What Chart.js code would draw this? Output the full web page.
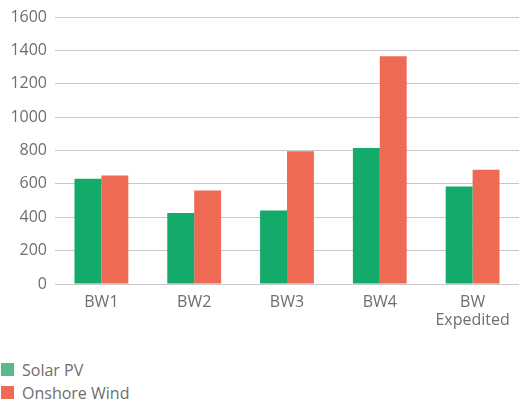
<!DOCTYPE html>
<html>
<head>
<meta charset="utf-8">
<script src="https://cdn.jsdelivr.net/npm/chart.js@4"></script>
<style>
  html, body { margin: 0; padding: 0; background: #fff; }
  #wrap { position: relative; width: 519px; height: 400px; overflow: hidden; }
  #chartBox { position: absolute; left: 0; top: 0; width: 519px; height: 338px; }
  #legend { position: absolute; left: 1px; top: 358px; font-family: "Open Sans", sans-serif; font-size: 16px; color: #6e6e6e; }
  .item { display: flex; align-items: center; height: 23px; }
  .box { width: 13px; height: 13px; margin-right: 8px; }
</style>
</head>
<body>
<div id="wrap">
  <div id="chartBox"><canvas id="c"></canvas></div>
  <div id="legend"></div>
</div>
<script>
const categories = [["BW1"], ["BW2"], ["BW3"], ["BW4"], ["BW", "Expedited"]];
const solarPV = [630, 425, 440, 815, 585];
const onshoreWind = [650, 560, 795, 1365, 685];
const seriesNames = ["Solar PV", "Onshore Wind"];
const barColors = ["#14aa6a", "#ee6a55"];
const legendColors = ["#5cba8a", "#ee6a55"];

const fontFamily = "'Open Sans', sans-serif";
const chart = new Chart(document.getElementById('c'), {
  type: 'bar',
  data: {
    labels: categories,
    datasets: [
      { label: seriesNames[0], data: solarPV, backgroundColor: barColors[0], categoryPercentage: 0.58, barPercentage: 1.0 },
      { label: seriesNames[1], data: onshoreWind, backgroundColor: barColors[1], categoryPercentage: 0.58, barPercentage: 1.0 }
    ]
  },
  options: {
    responsive: true,
    maintainAspectRatio: false,
    animation: false,
    layout: { padding: { top: 12, right: 0, left: 0, bottom: 0 } },
    plugins: { legend: { display: false }, tooltip: { enabled: false } },
    scales: {
      x: {
        grid: { display: false, drawTicks: false },
        border: { display: false },
        ticks: { color: '#6e6e6e', font: { family: fontFamily, size: 16, lineHeight: 1.125 }, padding: 9, maxRotation: 0 }
      },
      y: {
        min: 0, max: 1600,
        ticks: { stepSize: 200, color: '#6e6e6e', font: { family: fontFamily, size: 16, lineHeight: 1.125 }, padding: 8, callback: (v) => String(v) },
        grid: { color: '#c8c8c8', lineWidth: 1, drawTicks: false },
        border: { display: false },
        afterFit: (s) => { s.width = 55; }
      }
    }
  }
});

const legend = document.getElementById('legend');
chart.data.datasets.forEach((ds, i) => {
  const it = document.createElement('div');
  it.className = 'item';
  const b = document.createElement('div');
  b.className = 'box';
  b.style.background = legendColors[i];
  const t = document.createElement('span');
  t.textContent = ds.label;
  it.appendChild(b); it.appendChild(t);
  legend.appendChild(it);
});
</script>
</body>
</html>
